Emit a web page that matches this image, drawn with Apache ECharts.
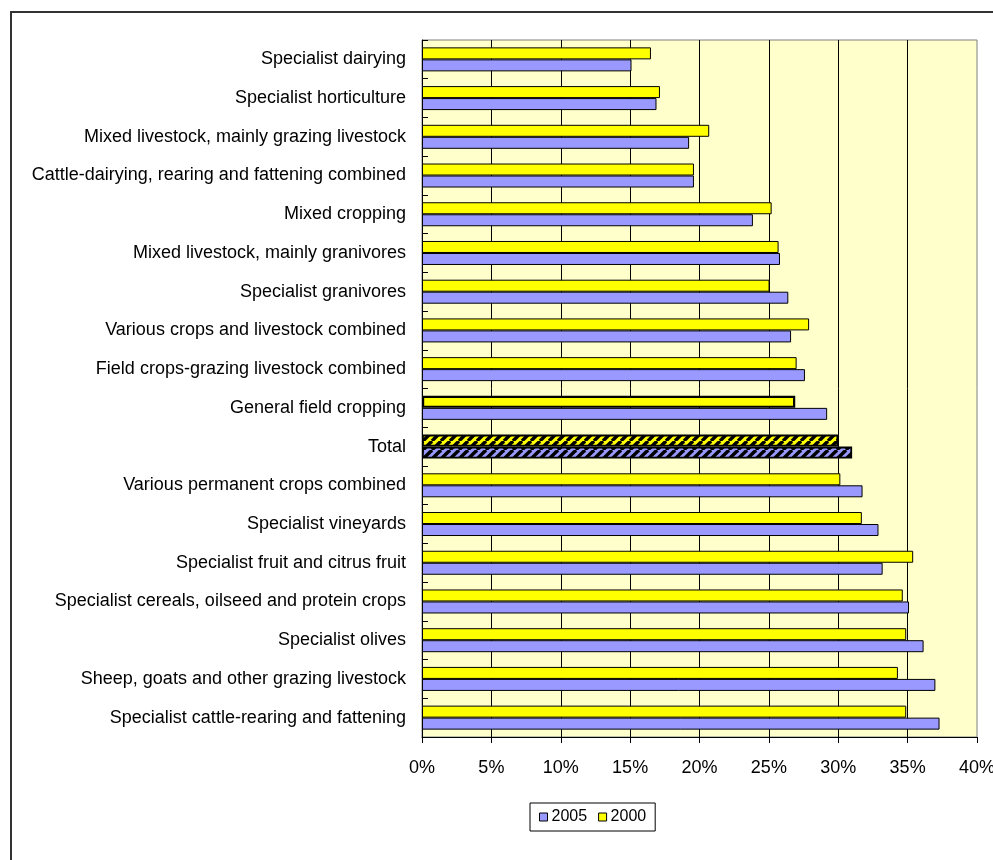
<!DOCTYPE html>
<html><head><meta charset="utf-8">
<script src="https://cdn.jsdelivr.net/npm/echarts@6/dist/echarts.min.js"></script>
<style>html,body{margin:0;padding:0;background:#fff}#c{width:993px;height:860px}</style>
</head><body><div id="c"></div>
<script>
const categories = [
  'Specialist dairying',
  'Specialist horticulture',
  'Mixed livestock, mainly grazing livestock',
  'Cattle-dairying, rearing and fattening combined',
  'Mixed cropping',
  'Mixed livestock, mainly granivores',
  'Specialist granivores',
  'Various crops and livestock combined',
  'Field crops-grazing livestock combined',
  'General field cropping',
  'Total',
  'Various permanent crops combined',
  'Specialist vineyards',
  'Specialist fruit and citrus fruit',
  'Specialist cereals, oilseed and protein crops',
  'Specialist olives',
  'Sheep, goats and other grazing livestock',
  'Specialist cattle-rearing and fattening'
];
const values2005 = [15.1, 16.9, 19.25, 19.6, 23.85, 25.8, 26.4, 26.6, 27.6, 29.2, 31.0, 31.75, 32.9, 33.2, 35.1, 36.15, 37.0, 37.3];
const values2000 = [16.5, 17.15, 20.7, 19.6, 25.2, 25.7, 25.05, 27.9, 27.0, 26.9, 30.0, 30.15, 31.7, 35.4, 34.65, 34.9, 34.3, 34.9];
const legendNames = ['2005', '2000'];
const xTickStep = 5;
const xMax = 40;

const BLUE = '#9999FF', YELLOW = '#FFFF00';
const FONT = "Arial, 'Liberation Sans', sans-serif";

function stripes(color) {
  const s = 9, c = document.createElement('canvas');
  c.width = s; c.height = s;
  const g = c.getContext('2d');
  g.fillStyle = color; g.fillRect(0, 0, s, s);
  g.strokeStyle = '#000'; g.lineWidth = 3.4;
  for (const o of [-s, 0, s]) { g.beginPath(); g.moveTo(o, s); g.lineTo(o + s, 0); g.stroke(); }
  return c;
}

function items(vals, color) {
  return vals.map((v, i) => {
    const cat = categories[i];
    if (cat === 'Total') {
      return { value: v, itemStyle: { color: { image: stripes(color), repeat: 'repeat' }, borderWidth: 1.8 } };
    }
    if (cat === 'General field cropping' && color === YELLOW) {
      return { value: v, itemStyle: { borderWidth: 2.2 } };
    }
    return v;
  });
}

const chart = echarts.init(document.getElementById('c'), null, { renderer: 'canvas' });
chart.setOption({
  animation: false,
  backgroundColor: '#fff',
  textStyle: { fontFamily: FONT },
  graphic: [{
    type: 'rect', silent: true, z: 100,
    shape: { x: 11, y: 12, width: 3000, height: 3000 },
    style: { fill: 'none', stroke: '#333', lineWidth: 2 }
  }],
  grid: {
    left: 422, right: 16, top: 40, bottom: 123,
    outerBoundsMode: 'none', containLabel: false,
    show: true, backgroundColor: '#FFFFCC', borderColor: '#808080', borderWidth: 1
  },
  legend: {
    data: legendNames,
    left: 530, top: 803,
    orient: 'horizontal',
    padding: [6, 9, 6, 9],
    itemWidth: 8, itemHeight: 8, itemGap: 11,
    borderColor: '#000', borderWidth: 1,
    icon: 'rect',
    itemStyle: { borderColor: '#000', borderWidth: 1 },
    textStyle: { fontSize: 16, color: '#000', fontFamily: FONT, padding: [0, 0, 0, -1] }
  },
  xAxis: {
    type: 'value', min: 0, max: xMax, interval: xTickStep,
    axisLine: { show: true, lineStyle: { color: '#000', width: 1 } },
    axisTick: { show: true, length: 6, lineStyle: { color: '#000' } },
    axisLabel: { formatter: '{value}%', fontSize: 18, color: '#000', margin: 22, fontFamily: FONT },
    splitLine: { show: true, showMinLine: false, showMaxLine: false, lineStyle: { color: '#000', width: 1 } }
  },
  yAxis: {
    type: 'category', data: categories, inverse: true,
    axisLine: { show: true, lineStyle: { color: '#000', width: 1 } },
    axisTick: { show: true, inside: true, length: 6, lineStyle: { color: '#000' } },
    axisLabel: { fontSize: 18, color: '#000', margin: 16, fontFamily: FONT, interval: 0 },
    splitLine: { show: false }
  },
  series: [
    {
      name: '2000', type: 'bar', barWidth: 12, barGap: '0%',
      itemStyle: { color: YELLOW, borderColor: '#000', borderWidth: 1 },
      data: items(values2000, YELLOW)
    },
    {
      name: '2005', type: 'bar', barWidth: 12, barGap: '0%',
      itemStyle: { color: BLUE, borderColor: '#000', borderWidth: 1 },
      data: items(values2005, BLUE)
    }
  ]
});
</script>
</body></html>
